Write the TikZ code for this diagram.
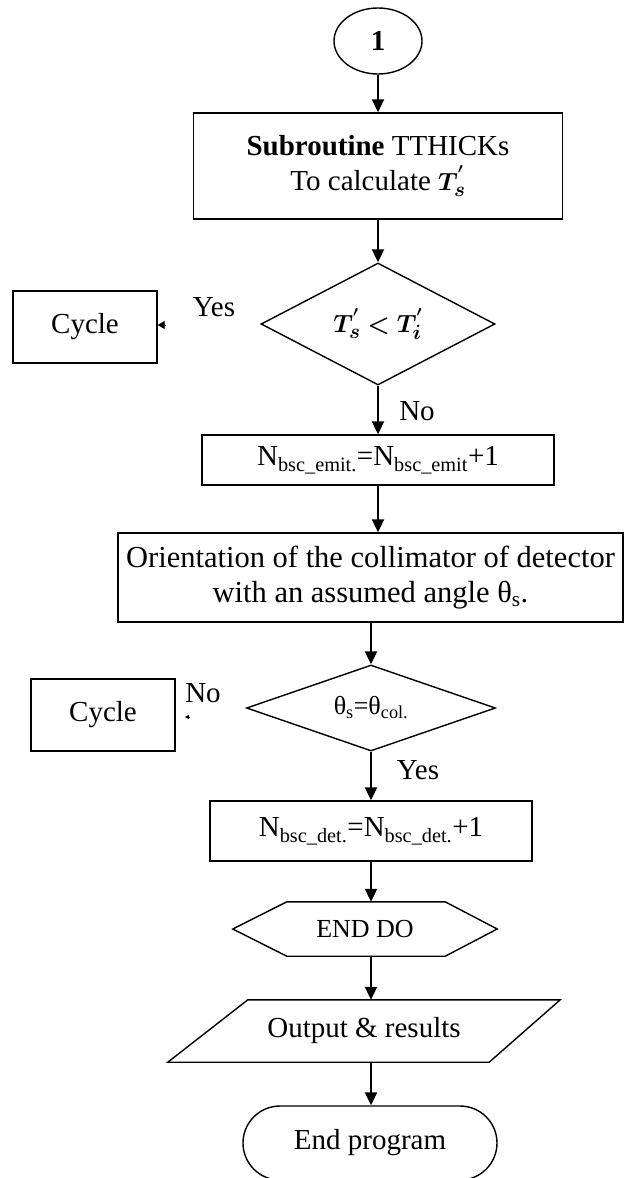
\documentclass[tikz,border=0pt]{standalone}
\usepackage{fontspec}
\setmainfont{Liberation Serif}
\usepackage{bm}
\usetikzlibrary{shapes.geometric,shapes.misc,arrows.meta}
\newcommand{\myfs}{\fontsize{29}{35}\selectfont}
\newcommand{\mybig}{\fontsize{30.5}{35}\selectfont}
\newcommand{\mysm}{\fontsize{26}{31}\selectfont}
\begin{document}
\begin{tikzpicture}[x=1pt,y=-1pt,
  shp/.style={draw,line width=1.4pt,inner sep=0pt,align=center,font=\myfs},
  lbl/.style={inner sep=0pt,font=\myfs},
  arr/.style={line width=2pt,-{Triangle[length=13pt,width=12pt]}},
  tiny/.style={line width=0.6pt,-{Triangle[length=7pt,width=8pt]}}]
\useasboundingbox (0,0) rectangle (625,1178);
% nodes
\node[shp,ellipse,minimum width=88pt,minimum height=66pt] (one) at (378,41) {\textbf{1}};
\node[shp,rectangle,minimum width=369pt,minimum height=106pt] (box1) at (378,166)
  {\textbf{Subroutine} TTHICKs\\To calculate $\bm{T_s^{'}}$};
\node[shp,diamond,aspect=1.92,minimum width=234pt,minimum height=122pt] (d1) at (378,324)
  {$\bm{T_s^{'}<T_i^{'}}$};
\node[lbl] (yes1) at (214,307) {Yes};
\node[shp,rectangle,minimum width=144pt,minimum height=72pt] (cyc1) at (85,327) {Cycle};
\node[lbl] (no1) at (417,411) {No};
\node[shp,rectangle,minimum width=352pt,minimum height=50pt] (box2) at (378,460)
  {N\textsubscript{bsc\_emit.}=N\textsubscript{bsc\_emit}+1};
\node[shp,rectangle,minimum width=505pt,minimum height=89pt,font=\mybig] (box3) at (370.5,577.5)
  {Orientation of the collimator of detector\\with an assumed angle θ\textsubscript{s}.};
\node[shp,diamond,aspect=2.9,minimum width=249pt,minimum height=86pt,font=\mysm] (d2) at (371,708)
  {θ\textsubscript{s}=θ\textsubscript{col.}};
\node[shp,rectangle,minimum width=144pt,minimum height=72pt] (cyc2) at (103,715) {Cycle};
\node[lbl] (no2) at (203,693) {No};
\node[lbl] (yes2) at (418,770) {Yes};
\node[shp,rectangle,minimum width=322pt,minimum height=60pt] (box4) at (371,831)
  {N\textsubscript{bsc\_det.}=N\textsubscript{bsc\_det.}+1};
\node[inner sep=0pt,font=\mysm,minimum width=264pt,minimum height=54pt] (hex) at (365,929) {END DO};
\draw[line width=1.4pt] (hex.west) -- ([xshift=54pt]hex.north west) -- ([xshift=-52pt]hex.north east)
  -- (hex.east) -- ([xshift=-52pt]hex.south east) -- ([xshift=54pt]hex.south west) -- cycle;
\node[inner sep=0pt,font=\myfs,minimum width=392pt,minimum height=62pt] (para) at (364,1031) {Output \& results};
\draw[line width=1.4pt] ([xshift=80pt]para.north west) -- (para.north east)
  -- ([xshift=-71pt]para.south east) -- (para.south west) -- cycle;
\node[shp,rounded rectangle,minimum width=254pt,minimum height=74pt] (term) at (370,1143) {End program};
% connectors
\draw[arr] (one.south) -- (box1.north);
\draw[arr] (box1.south) -- (d1.north);
\draw[arr] (d1.south) -- (box2.north);
\draw[arr] (box2.south) -- (box2.south |- box3.north);
\draw[arr] (d2.north |- box3.south) -- (d2.north);
\draw[arr] (d2.south) -- (box4.north);
\draw[arr] (box4.south) -- (box4.south |- hex.north);
\draw[arr] (box4.south |- hex.south) -- (box4.south |- para.north);
\draw[arr] (box4.south |- para.south) -- (box4.south |- term.north);
% stray cycle arrow tips
\coordinate (c1) at (166,325);
\draw[tiny] (c1) -- (cyc1.east |- c1);
\coordinate (c2a) at (190,717);
\coordinate (c2b) at (185,717);
\draw[line width=0.4pt,-{Triangle[length=4pt,width=4pt]}] (c2a) -- (c2b);
\end{tikzpicture}
\end{document}
